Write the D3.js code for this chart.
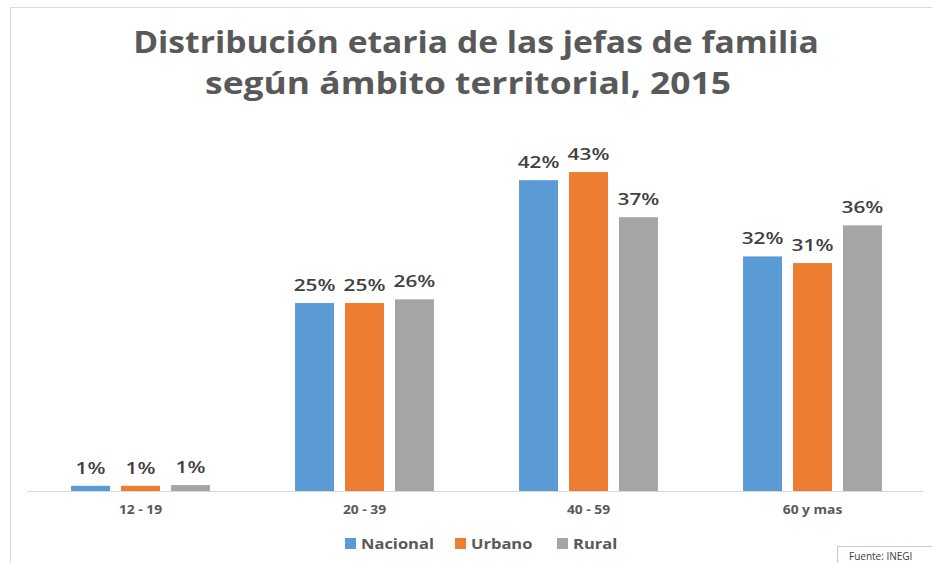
<!DOCTYPE html>
<html>
<head>
<meta charset="utf-8">
<script src="https://cdn.jsdelivr.net/npm/d3@7"></script>
<style>
  body { margin: 0; background: #fff; }
  text { font-family: "Open Sans", sans-serif; }
</style>
</head>
<body>
<div id="viz"></div>
<script>
// data
var categories = ['12 - 19', '20 - 39', '40 - 59', '60 y mas'];
var seriesNames = ['Nacional', 'Urbano', 'Rural'];
var nacional = [0.7, 25.4, 42.0, 31.7];
var urbano = [0.7, 25.4, 43.1, 30.8];
var rural = [0.8, 25.9, 37.0, 35.9];
var titleLines = ['Distribución etaria de las jefas de familia', 'según ámbito territorial, 2015'];
var sourceText = 'Fuente:  INEGI';

var colors = ['#5b9bd5', '#ed7d31', '#a5a5a5'];
var values = [nacional, urbano, rural];

var width = 932, height = 563;

var svg = d3.select('#viz').append('svg')
	.attr('width', width)
	.attr('height', height);

// stretch text horizontally (the original picture is a bit wide)
function stretch(sel, k) {
	sel.each(function() {
		var len = this.getComputedTextLength();
		d3.select(this).attr('textLength', len * k).attr('lengthAdjust', 'spacingAndGlyphs');
	});
}

// chart border (only top and left visible)
svg.append('path')
	.attr('d', 'M10.5,' + height + 'V7.5H' + width)
	.attr('style', 'fill: none; stroke: #d9d9d9; stroke-width: 1px;');

// scales
var x0 = d3.scaleBand()
	.domain(categories)
	.range([28.5, 924.5])
	.paddingInner(0.38)
	.paddingOuter(0.19);

var x1 = d3.scaleBand()
	.domain(seriesNames)
	.range([0, x0.bandwidth()])
	.paddingInner(0.22);

var y = d3.scaleLinear()
	.domain([0, 50])
	.range([491, 121]);

// title
var title = svg.append('g').attr('id', 'title');
title.selectAll('text')
	.data(titleLines)
	.enter()
	.append('text')
	.attr('x', function(d, i) { return i == 0 ? 476 : 468; })
	.attr('y', function(d, i) { return i == 0 ? 53 : 94; })
	.attr('text-anchor', 'middle')
	.attr('style', 'font-size: 30px; font-weight: bold; fill: #595959;')
	.text(function(d) { return d; });
stretch(title.selectAll('text').filter(function(d, i) { return i == 0; }), 1.12);
stretch(title.selectAll('text').filter(function(d, i) { return i == 1; }), 1.18);

// bars
var groups = svg.append('g').attr('id', 'bars')
	.selectAll('g')
	.data(categories)
	.enter()
	.append('g')
	.attr('transform', function(d) { return 'translate(' + x0(d) + ',0)'; });

var fmt = d3.format('.0f');

groups.each(function(cat, ci) {
	var g = d3.select(this);
	seriesNames.forEach(function(s, si) {
		var v = values[si][ci];
		g.append('rect')
			.attr('x', x1(s))
			.attr('y', y(v))
			.attr('width', x1.bandwidth())
			.attr('height', y(0) - y(v))
			.attr('fill', colors[si]);
		g.append('text')
			.classed('valueLabel', true)
			.attr('x', x1(s) + x1.bandwidth() / 2)
			.attr('y', y(v) - 12)
			.attr('text-anchor', 'middle')
			.attr('style', 'font-size: 16px; font-weight: 600; fill: #404040;')
			.text(fmt(v) + '%');
	});
});
stretch(svg.selectAll('.valueLabel'), 1.3);

// x axis line and labels
var axis = svg.append('g')
	.attr('transform', 'translate(0,' + y(0) + ')')
	.call(d3.axisBottom(x0).tickSize(0).tickPadding(0));
axis.select('.domain')
	.attr('d', 'M27,0.5H923')
	.attr('stroke', '#d9d9d9');
axis.selectAll('text')
	.attr('dy', null)
	.attr('y', 23)
	.attr('style', 'font-family: "Open Sans", sans-serif; font-size: 12px; font-weight: bold; fill: #595959;');
stretch(axis.selectAll('text'), 1.15);

// legend
var legendX = [345, 455, 557];
var legend = svg.append('g').attr('id', 'legend');
seriesNames.forEach(function(s, i) {
	legend.append('rect')
		.attr('x', legendX[i])
		.attr('y', 538)
		.attr('width', 11)
		.attr('height', 11)
		.attr('fill', colors[i]);
	legend.append('text')
		.attr('x', legendX[i] + 16)
		.attr('y', 549)
		.attr('style', 'font-size: 15px; font-weight: bold; fill: #595959;')
		.text(s);
});
stretch(legend.selectAll('text'), 1.1);

// source box
var src = svg.append('g').attr('id', 'source');
src.append('rect')
	.attr('x', 837.5)
	.attr('y', 546.5)
	.attr('width', 100)
	.attr('height', 30)
	.attr('style', 'fill: #fff; stroke: #c8c8c8; stroke-width: 1px;');
src.append('text')
	.attr('x', 849)
	.attr('y', 560)
	.attr('style', 'font-size: 10px; fill: #404040;')
	.text(sourceText);
</script>
</body>
</html>
